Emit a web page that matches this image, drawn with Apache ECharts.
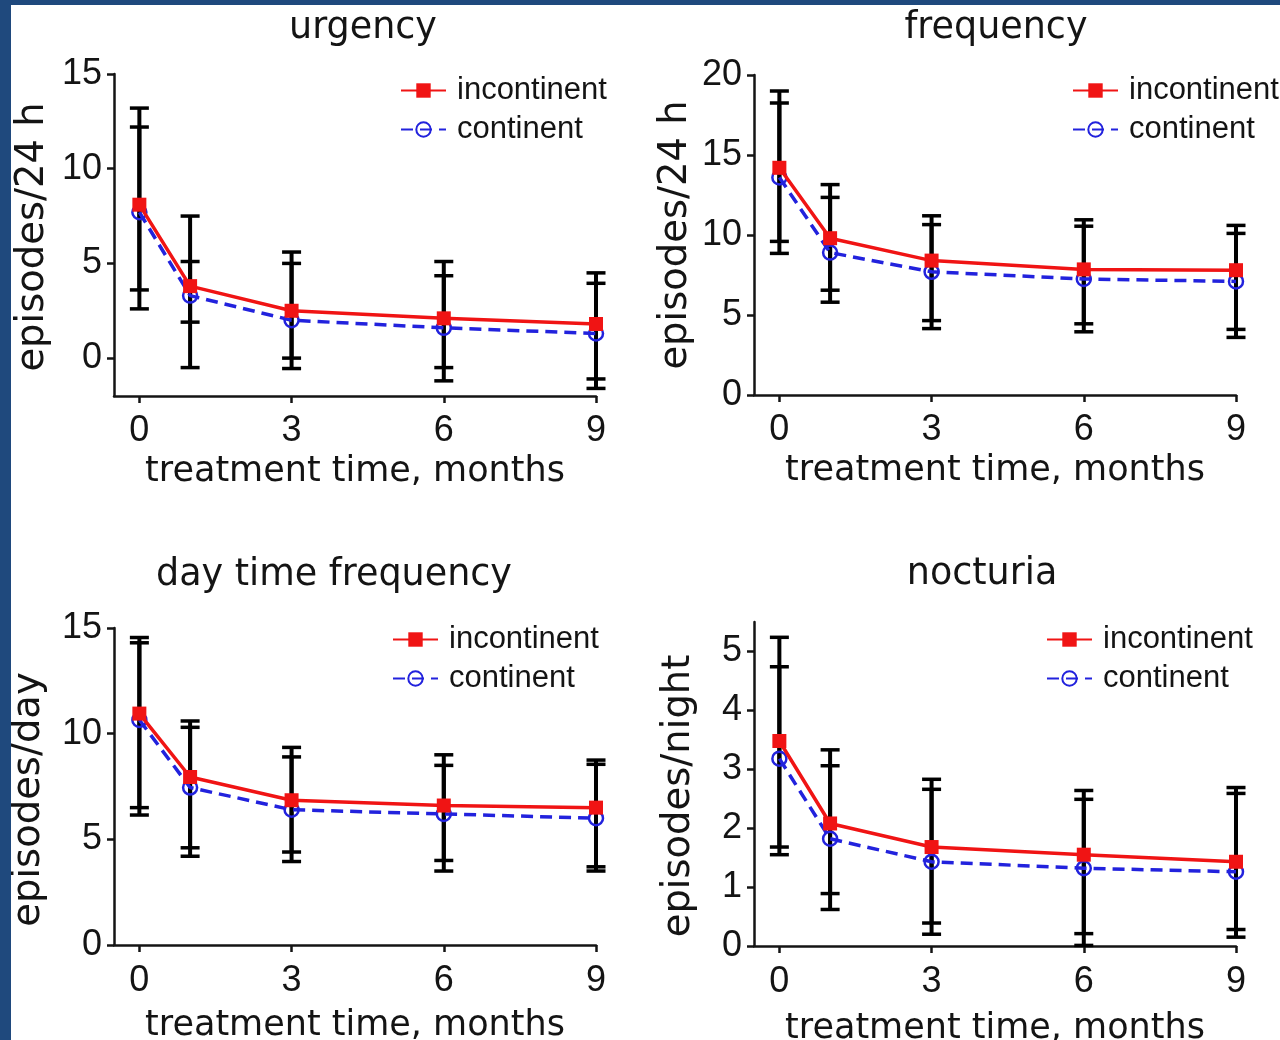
<!DOCTYPE html>
<html>
<head>
<meta charset="utf-8">
<script src="https://cdn.jsdelivr.net/npm/echarts@6/dist/echarts.min.js"></script>
<style>
  html, body { margin: 0; padding: 0; background: #ffffff; }
  #chart { width: 1280px; height: 1040px; }
</style>
</head>
<body>
<div id="chart"></div>
<script>
// Treatment time points (months)
const months = [0, 1, 3, 6, 9];
const monthTicks = [0, 3, 6, 9];

// Urgency (episodes/24 h)
const urgencyIncont   = [8.1, 3.8, 2.5, 2.1, 1.8];
const urgencyCont     = [7.7, 3.3, 2.0, 1.6, 1.3];
const urgencyIncontHi = [13.2, 7.5, 5.6, 5.1, 4.5];
const urgencyIncontLo = [3.6, -0.5, 0.0, -0.5, -1.1];
const urgencyContHi   = [12.2, 5.1, 5.0, 4.35, 3.95];
const urgencyContLo   = [2.6, 1.9, -0.55, -1.2, -1.6];
const urgencyTicks    = [0, 5, 10, 15];

// Frequency (episodes/24 h)
const freqIncont   = [14.2, 9.8, 8.4, 7.85, 7.8];
const freqCont     = [13.6, 8.9, 7.7, 7.25, 7.1];
const freqIncontHi = [19.0, 13.15, 11.2, 10.95, 10.6];
const freqIncontLo = [9.6, 6.55, 4.65, 4.45, 4.1];
const freqContHi   = [18.25, 12.35, 10.65, 10.55, 10.1];
const freqContLo   = [8.85, 5.8, 4.15, 3.95, 3.6];
const freqTicks    = [0, 5, 10, 15, 20];

// Day time frequency (episodes/day)
const dayIncont   = [10.95, 7.95, 6.85, 6.6, 6.5];
const dayCont     = [10.65, 7.45, 6.4, 6.2, 6.0];
const dayIncontHi = [14.55, 10.6, 9.35, 9.0, 8.75];
const dayIncontLo = [6.5, 4.6, 4.4, 4.0, 3.7];
const dayContHi   = [14.3, 10.3, 8.9, 8.5, 8.55];
const dayContLo   = [6.15, 4.2, 3.95, 3.5, 3.5];
const dayTicks    = [0, 5, 10, 15];

// Nocturia (episodes/night)
const noctIncont   = [3.48, 2.08, 1.68, 1.55, 1.43];
const noctCont     = [3.18, 1.82, 1.43, 1.32, 1.26];
const noctIncontHi = [5.24, 3.33, 2.83, 2.64, 2.69];
const noctIncontLo = [1.68, 0.89, 0.39, 0.21, 0.28];
const noctContHi   = [4.74, 3.06, 2.66, 2.49, 2.59];
const noctContLo   = [1.55, 0.62, 0.2, 0.01, 0.15];
const noctTicks    = [0, 1, 2, 3, 4, 5];

const RED = '#f01414';
const BLUE = '#2222dd';
const INK = '#141414';
const TICK_FONT = 'Liberation Sans';
const NAME_FONT = 'DejaVu Sans';

const panels = [
  { title: 'urgency', titleX: 363, titleY: 29, yName: 'episodes/24 h',
    grid: { left: 114, top: 74, width: 482, height: 322 }, yMin: -2, yMax: 15, yTicks: urgencyTicks,
    inc: urgencyIncont, con: urgencyCont, incHi: urgencyIncontHi, incLo: urgencyIncontLo,
    conHi: urgencyContHi, conLo: urgencyContLo, legend: { left: 400, top: 75 }, yNameGap: 62,
    yNameShift: 4, xLabelMargin: 17, xNameGap: 58 },
  { title: 'frequency', titleX: 996, titleY: 29, yName: 'episodes/24 h',
    grid: { left: 754, top: 75, width: 482, height: 320 }, yMin: 0, yMax: 20, yTicks: freqTicks,
    inc: freqIncont, con: freqCont, incHi: freqIncontHi, incLo: freqIncontLo,
    conHi: freqContHi, conLo: freqContLo, legend: { left: 1072, top: 75 }, yNameGap: 59,
    yNameShift: 0, xLabelMargin: 17, xNameGap: 58 },
  { title: 'day time frequency', titleX: 334, titleY: 576, yName: 'episodes/day',
    grid: { left: 114, top: 628, width: 482, height: 317 }, yMin: 0, yMax: 15, yTicks: dayTicks,
    inc: dayIncont, con: dayCont, incHi: dayIncontHi, incLo: dayIncontLo,
    conHi: dayContHi, conLo: dayContLo, legend: { left: 392, top: 624 }, yNameGap: 66,
    yNameShift: 26, xLabelMargin: 18, xNameGap: 63 },
  { title: 'nocturia', titleX: 982, titleY: 575, yName: 'episodes/night',
    grid: { left: 754, top: 622, width: 482, height: 324 }, yMin: 0, yMax: 5.5, yTicks: noctTicks,
    inc: noctIncont, con: noctCont, incHi: noctIncontHi, incLo: noctIncontLo,
    conHi: noctContHi, conLo: noctContLo, legend: { left: 1046, top: 624 }, yNameGap: 56,
    yNameShift: 24, xLabelMargin: 18, xNameGap: 65 }
];

function errorBarItem(params, api) {
  const x = api.value(0);
  const top = api.coord([x, api.value(1)]);
  const bot = api.coord([x, api.value(2)]);
  const half = 9.5;
  const style = { stroke: '#000', lineWidth: 3.5 };
  return {
    type: 'group',
    children: [
      { type: 'line', shape: { x1: top[0], y1: top[1], x2: bot[0], y2: bot[1] }, style: { stroke: '#000', lineWidth: 4 } },
      { type: 'line', shape: { x1: top[0] - half, y1: top[1], x2: top[0] + half, y2: top[1] }, style },
      { type: 'line', shape: { x1: bot[0] - half, y1: bot[1], x2: bot[0] + half, y2: bot[1] }, style }
    ]
  };
}

const grids = [], xAxes = [], yAxes = [], series = [], legends = [], graphics = [];

panels.forEach((p, i) => {
  grids.push(Object.assign({ containLabel: false, outerBoundsMode: 'none' }, p.grid));
  xAxes.push({
    type: 'value', gridIndex: i, min: -0.5, max: 9,
    name: 'treatment time, months', nameLocation: 'middle', nameGap: p.xNameGap,
    nameTextStyle: { fontFamily: NAME_FONT, fontSize: 35, color: INK },
    axisLine: { show: true, onZero: false, lineStyle: { color: INK, width: 2.5 } },
    axisTick: { show: true, length: 7, lineStyle: { color: INK, width: 2.5 }, customValues: monthTicks },
    axisLabel: { fontFamily: TICK_FONT, fontSize: 36, color: INK, margin: p.xLabelMargin, customValues: monthTicks },
    splitLine: { show: false }
  });
  yAxes.push({
    type: 'value', gridIndex: i, min: p.yMin, max: p.yMax,
    name: p.yName, nameLocation: 'middle', nameGap: p.yNameGap, nameRotate: 90,
    nameTextStyle: { fontFamily: NAME_FONT, fontSize: 38.5, color: INK, padding: [0, p.yNameShift, 0, 0] },
    axisLine: { show: true, onZero: false, lineStyle: { color: INK, width: 2.5 } },
    axisTick: { show: true, length: 7, lineStyle: { color: INK, width: 2.5 }, customValues: p.yTicks },
    axisLabel: { fontFamily: TICK_FONT, fontSize: 36, color: INK, margin: 12, customValues: p.yTicks },
    splitLine: { show: false }
  });

  const bars = months.map((m, k) => [m, p.incHi[k], p.incLo[k]])
    .concat(months.map((m, k) => [m, p.conHi[k], p.conLo[k]]));
  series.push({
    type: 'custom', name: 'sd', xAxisIndex: i, yAxisIndex: i, z: 1,
    renderItem: errorBarItem, encode: { x: 0, y: [1, 2] }, data: bars, silent: true
  });
  series.push({
    type: 'line', name: 'continent', xAxisIndex: i, yAxisIndex: i, z: 2,
    data: months.map((m, k) => [m, p.con[k]]),
    symbol: 'circle', symbolSize: 14, showSymbol: true,
    lineStyle: { color: BLUE, width: 3.5, type: [12, 7] },
    itemStyle: { color: 'rgba(255,255,255,0)', borderColor: BLUE, borderWidth: 2.5 }
  });
  series.push({
    type: 'line', name: 'incontinent', xAxisIndex: i, yAxisIndex: i, z: 3,
    data: months.map((m, k) => [m, p.inc[k]]),
    symbol: 'rect', symbolSize: 14, showSymbol: true,
    lineStyle: { color: RED, width: 3.5 },
    itemStyle: { color: RED, borderColor: RED, borderWidth: 0 }
  });

  legends.push({
    data: ['incontinent', 'continent'], orient: 'vertical', left: p.legend.left, top: p.legend.top,
    padding: 0, itemGap: 8, itemWidth: 45, itemHeight: 18, selectedMode: false,
    textStyle: { fontFamily: TICK_FONT, fontSize: 31, color: INK, padding: [0, 0, 0, 6] }
  });

  graphics.push({
    type: 'text', x: p.titleX, y: p.titleY, silent: true,
    style: { text: p.title, fontFamily: NAME_FONT, fontSize: 36.5, fill: INK, textAlign: 'center', textVerticalAlign: 'middle' }
  });
});

// Page frame strips along the left and top edges
graphics.push({ type: 'rect', left: 0, top: 0, shape: { width: 11, height: 1040 }, style: { fill: '#1f497d' }, z: 10 });
graphics.push({ type: 'rect', left: 0, top: 0, shape: { width: 1280, height: 5 }, style: { fill: '#1f497d' }, z: 10 });

const chart = echarts.init(document.getElementById('chart'), null, { renderer: 'canvas' });
chart.setOption({
  animation: false,
  backgroundColor: '#ffffff',
  grid: grids,
  xAxis: xAxes,
  yAxis: yAxes,
  legend: legends,
  series: series,
  graphic: graphics
});
</script>
</body>
</html>
